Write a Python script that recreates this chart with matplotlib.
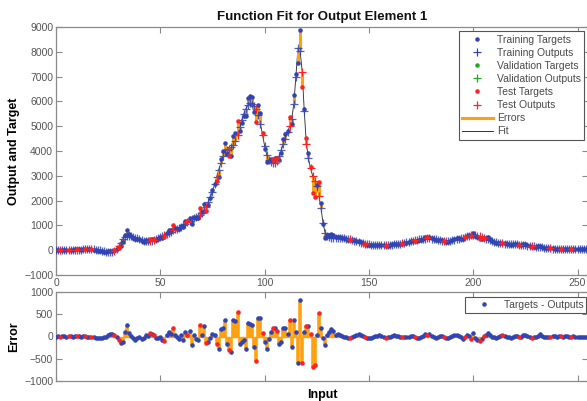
import numpy as np
import matplotlib
matplotlib.use('Agg')
import matplotlib.pyplot as plt
from matplotlib.lines import Line2D

plt.rcParams['font.family'] = ['Liberation Sans', 'DejaVu Sans']

# Network outputs (smooth fit), x = 0..254
outputs = [
    20, 15, 10, 15, 20, 10, 5, 10, 15, 20,
    25, 20, 20, 30, 40, 45, 50, 40, 30, 20,
    10, 0, -20, -40, -60, -80, -90, -80, -40, 60,
    150, 300, 450, 520, 560, 570, 560, 540, 510, 480,
    450, 420, 390, 370, 360, 370, 390, 420, 460, 500,
    540, 580, 620, 670, 710, 750, 800, 840, 870, 900,
    950, 1000, 1060, 1120, 1180, 1240, 1290, 1340, 1380, 1430,
    1520, 1620, 1750, 1950, 2150, 2350, 2650, 2950, 3250, 3500,
    3800, 3950, 4050, 4100, 4150, 4250, 4400, 4650, 4950, 5250,
    5500, 5700, 5850, 5950, 5900, 5800, 5700, 5450, 5100, 4650,
    4200, 3850, 3650, 3550, 3500, 3500, 3600, 3800, 4050, 4300,
    4500, 4750, 5000, 5300, 5900, 7000, 8150, 8050, 7200, 5600,
    4300, 3700, 3300, 3000, 2800, 2600, 2200, 1700, 1100, 700,
    560, 520, 500, 490, 480, 480, 490, 490, 480, 470,
    460, 440, 420, 390, 360, 330, 300, 280, 260, 240,
    230, 220, 210, 200, 200, 195, 195, 200, 200, 205,
    210, 220, 230, 240, 250, 265, 280, 300, 320, 340,
    360, 380, 400, 420, 440, 450, 460, 470, 480, 480,
    470, 460, 440, 420, 400, 390, 380, 370, 370, 380,
    400, 420, 440, 460, 480, 500, 530, 560, 590, 610,
    620, 610, 590, 560, 530, 500, 470, 440, 410, 380,
    350, 330, 310, 290, 280, 270, 260, 255, 250, 245,
    240, 230, 220, 210, 200, 190, 180, 170, 160, 150,
    140, 130, 120, 110, 100, 90, 80, 70, 60, 55,
    50, 45, 40, 40, 35, 35, 30, 30, 30, 30,
    30, 30, 30, 30, 30,
]

# Errors = Targets - Outputs
errors = [
    0, 5, -5, 10, 5, 0, 10, 5, 0, 10,
    5, 10, 0, 5, 10, 0, -5, -10, -20, -25,
    -30, -30, -25, -15, 0, 30, 50, 55, 40, -10,
    -70, -150, -130, 100, 260, 70, 10, -40, -70, -30,
    0, -60, -40, 40, 20, 80, 60, 30, -30, -40,
    -20, -80, -100, 40, 100, 60, 200, 40, -20, -60,
    40, -80, 100, 40, 130, -190, 30, -60, -80, 260,
    40, 230, -150, -120, -30, 60, 30, -160, -290, 160,
    190, 360, -170, -300, -350, 360, 340, 550, -160, -120,
    -70, -290, 300, 280, 260, -230, -540, 410, 420, 70,
    -120, -290, -50, 110, 180, 200, 120, -160, -120, 200,
    180, 60, 375, -230, 375, 110, -600, 825, -600, 110,
    225, 225, 60, -690, -640, 40, 530, 190, -40, -200,
    40, 110, 160, 120, 40, 60, 30, 10, 0, -20,
    -30, -40, -10, 20, 30, 60, 40, 10, -20, -30,
    -40, -30, -10, 10, 20, 30, 20, 0, -30, -20,
    0, 20, 30, 20, 10, 0, -10, -20, -20, 0,
    20, 10, -10, -30, -40, -20, 10, 60, 40, 50,
    20, 0, -30, -20, 10, 20, -10, -40, -30, 0,
    20, 30, 40, 20, -20, -50, -10, 30, 10, -50,
    70, -40, -70, -90, -60, 10, 40, 80, 30, 0,
    -20, -30, -20, 10, 30, 20, 0, -20, -30, -10,
    10, 20, 0, -20, 30, 40, 20, -10, -30, -20,
    0, 20, 50, 10, -10, -20, -10, 0, 10, 10,
    0, 10, 10, 0, 10, 10, 0, 0, 10, 0,
    0, 0, 0, 0, 0,
]

# Samples used for testing (the rest are training samples)
test_idx = [2, 6, 10, 14, 17, 28, 30, 45, 47, 52, 56, 63, 69, 72, 77, 83, 87,
            96, 99, 104, 106, 112, 118, 120, 122, 123, 124, 126, 141, 148, 158,
            166, 172, 178, 186, 196, 199, 203, 205, 214, 222, 228, 237, 242, 247]

x_ticks = [0, 50, 100, 150, 200, 250]
y1_ticks = [-1000, 0, 1000, 2000, 3000, 4000, 5000, 6000, 7000, 8000, 9000]
y2_ticks = [-1000, -500, 0, 500, 1000]

outputs = np.array(outputs, dtype=float)
errors = np.array(errors, dtype=float)
targets = outputs + errors
x = np.arange(len(outputs))
is_test = np.isin(x, test_idx)
is_train = ~is_test

BLUE = '#3144b4'
RED = '#ff2020'
GREEN = '#22aa22'
ORANGE = '#ffa010'
SPINE = '#8a8a8a'
TXT = '#4a4a4a'

fig = plt.figure(figsize=(5.87, 4.01), dpi=100)
L = 56 / 587
W = (588 - 56) / 587
ax1 = fig.add_axes([L, 1 - 275 / 401, W, 248 / 401])
ax2 = fig.add_axes([L, 1 - 381 / 401, W, 89 / 401])

for ax in (ax1, ax2):
    for s in ax.spines.values():
        s.set_color(SPINE)
        s.set_linewidth(0.9)
    ax.tick_params(direction='in', top=True, right=True, length=4, width=0.8,
                   color=SPINE, labelcolor='#555555', labelsize=7.5, pad=2)
    ax.set_xlim(0, 255)
    ax.set_xticks(x_ticks)

# Top panel
ax1.plot(x, outputs, color='#333333', lw=0.65, zorder=2)
ax1.vlines(x, outputs, targets, colors=ORANGE, lw=2.2, zorder=3)
ax1.plot(x[is_train], outputs[is_train], '+', color=BLUE, ms=6, mew=0.9,
         alpha=0.85, zorder=4)
ax1.plot(x[is_train], targets[is_train], '.', color=BLUE, ms=4.5, zorder=5)
ax1.plot(x[is_test], outputs[is_test], '+', color=RED, ms=6, mew=0.9, zorder=6)
ax1.plot(x[is_test], targets[is_test], '.', color=RED, ms=4.5, zorder=6)
ax1.set_ylim(-1000, 9000)
ax1.set_yticks(y1_ticks)
ax1.set_title('Function Fit for Output Element 1', fontweight='bold', fontsize=9.5,
              pad=5, color='#111111')
ax1.set_ylabel('Output and Target', fontweight='bold', fontsize=9, labelpad=3)

handles = [
    Line2D([], [], ls='none', marker='.', color=BLUE, ms=4.5),
    Line2D([], [], ls='none', marker='+', color=BLUE, ms=6, mew=0.9),
    Line2D([], [], ls='none', marker='.', color=GREEN, ms=4.5),
    Line2D([], [], ls='none', marker='+', color=GREEN, ms=6, mew=0.9),
    Line2D([], [], ls='none', marker='.', color=RED, ms=4.5),
    Line2D([], [], ls='none', marker='+', color=RED, ms=6, mew=0.9),
    Line2D([], [], color=ORANGE, lw=2.2),
    Line2D([], [], color='#333333', lw=0.7),
]
labels = ['Training Targets', 'Training Outputs', 'Validation Targets',
          'Validation Outputs', 'Test Targets', 'Test Outputs', 'Errors', 'Fit']
leg1 = ax1.legend(handles, labels, loc='upper right', bbox_to_anchor=(0.993, 0.982),
                  fontsize=7.5, frameon=True, fancybox=False, framealpha=1,
                  edgecolor='#555555', labelspacing=0.3, handlelength=3.0,
                  handletextpad=0.4, borderpad=0.3, borderaxespad=0)
leg1.get_frame().set_linewidth(0.8)
for t in leg1.get_texts():
    t.set_color(TXT)

# Bottom panel
ax2.axhline(0, color=ORANGE, lw=1.0, zorder=1)
ax2.vlines(x, 0, errors, colors=ORANGE, lw=2.6, zorder=2)
ax2.plot(x[is_train], errors[is_train], '.', color=BLUE, ms=4.5, zorder=4)
ax2.plot(x[is_test], errors[is_test], '.', color=RED, ms=4.5, zorder=5)
ax2.set_ylim(-1000, 1000)
ax2.set_yticks(y2_ticks)
ax2.set_xticklabels([])
ax2.set_ylabel('Error', fontweight='bold', fontsize=9, labelpad=3)
ax2.set_xlabel('Input', fontweight='bold', fontsize=9, labelpad=4)
leg2 = ax2.legend([Line2D([], [], ls='none', marker='.', color=BLUE, ms=4.5)],
                  ['Targets - Outputs'], loc='upper right',
                  bbox_to_anchor=(0.996, 0.94), fontsize=7.5, frameon=True,
                  fancybox=False, framealpha=1, edgecolor='#555555',
                  handlelength=3.0, handletextpad=0.4, borderpad=0.25,
                  borderaxespad=0)
leg2.get_frame().set_linewidth(0.8)
for t in leg2.get_texts():
    t.set_color(TXT)

fig.savefig('out.png', dpi=100)
